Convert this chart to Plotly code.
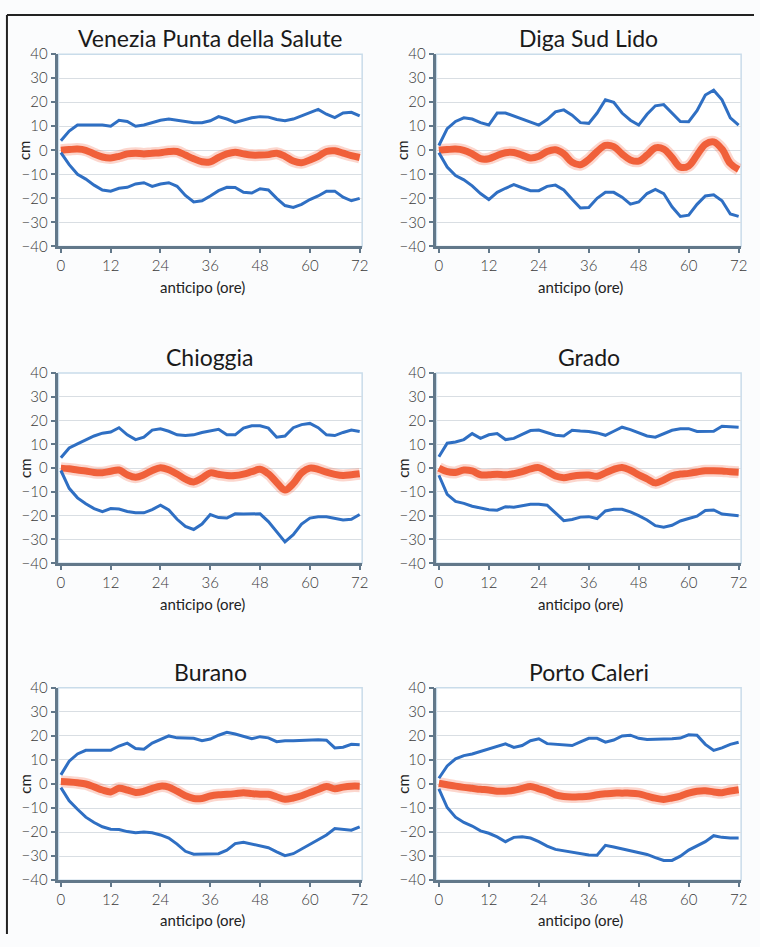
import plotly.graph_objects as go

# ---------------- data ----------------
hours = list(range(0, 73, 2))
x_ticks = [0, 12, 24, 36, 48, 60, 72]
y_ticks = [-40, -30, -20, -10, 0, 10, 20, 30, 40]
stations = ["Venezia Punta della Salute", "Diga Sud Lido", "Chioggia", "Grado", "Burano", "Porto Caleri"]

venezia_upper = [4, 8, 10.5, 10.5, 10.5, 10.5, 10, 12.5, 12, 10, 10.5, 11.6, 12.5, 13, 12.5, 12.3, 11.5, 11.5, 12.3,
                 14, 13, 11.6, 12.5, 13.5, 14, 13.8, 12.8, 12.3, 13, 14.3, 15.5, 17, 15, 13.6, 15.5, 15.8, 14.3]
venezia_mean = [0, 0.3, 0.5, 0, -1.5, -2.8, -3.2, -2.5, -1.5, -1.2, -1.5, -1.2, -1, -0.5, -0.5, -2, -3.5, -4.8, -4.8,
                -3, -1.5, -0.8, -1.5, -2, -2, -1.8, -1.2, -2.5, -4.5, -5.2, -4, -2.5, -0.5, -0.2, -1.2, -2.2, -3]
venezia_lower = [-1, -6, -10, -12, -14.5, -16.5, -17, -15.8, -15.4, -14, -13.5, -15, -14, -13.5, -15, -18.8, -21.5,
                 -21, -19, -16.8, -15.4, -15.5, -17.5, -17.8, -16, -16.5, -20, -23, -23.8, -22.5, -20.5, -19, -17,
                 -17, -19.5, -21, -20]

lido_upper = [2, 9, 12, 13.5, 13, 11.5, 10.5, 15.5, 15.5, 14.2, 13, 11.5, 10.5, 12.8, 16, 16.8, 14.6, 11.5, 11.2,
              15.5, 21, 20, 15.5, 12.5, 10.5, 15, 18.5, 19, 15.5, 12, 11.9, 16.5, 23, 25, 21, 13.5, 10.5]
lido_mean = [0, 0.3, 0.5, 0, -1.5, -3.5, -3.5, -2.2, -1, -0.9, -2, -3.2, -2.5, -0.5, 0.2, -1.5, -5, -6, -3.8,
             -0.5, 2, 1.5, -1.5, -4, -4.5, -2, 1, 0.5, -3, -7, -6.5, -2, 2.5, 3.5, 0.5, -5.5, -8]
lido_lower = [-1, -7, -10.5, -12.3, -14.8, -18, -20.5, -17.5, -15.8, -14.3, -15.6, -16.8, -16.8, -15, -14.5, -16.5,
              -20.4, -24, -23.8, -20, -17.5, -17.5, -19.5, -22.4, -21.5, -18, -16.3, -18, -23.5, -27.5, -27, -22.5,
              -19, -18.5, -21, -26.5, -27.5]

chioggia_upper = [4.4, 8.5, 10.2, 12, 13.5, 14.7, 15.2, 17, 14, 12, 13, 16, 16.5, 15.5, 14, 13.7, 14, 15, 15.5,
                  16.3, 14, 14, 16.8, 17.8, 17.8, 16.8, 13, 13.5, 17, 18.3, 18.8, 17, 14, 13.7, 15, 16, 15.4]
chioggia_mean = [0, -0.3, -0.8, -1.2, -1.8, -1.9, -1.3, -0.8, -2.8, -3.8, -2.8, -1, 0.2, -0.7, -2.5, -4.6, -5.8,
                 -4.2, -2, -2.6, -3.1, -3.1, -2.5, -1.5, -0.5, -2.4, -6, -9.2, -6.5, -2, 0, -0.5, -1.7, -2.6, -3.1,
                 -2.8, -2.4]
chioggia_lower = [-1, -8.5, -12.5, -15, -17, -18.3, -17, -17.2, -18.2, -18.8, -18.8, -17.4, -15.6, -17.6, -21.5,
                  -24.5, -25.8, -23.5, -19.5, -20.8, -21, -19.2, -19.3, -19.3, -19.2, -22.5, -27, -31, -28, -23.5,
                  -21, -20.4, -20.4, -21.2, -21.8, -21.5, -19.5]

grado_upper = [4.8, 10.5, 11, 12, 14.5, 12.5, 14, 14.5, 12, 12.5, 14.2, 15.8, 16, 15, 13.8, 13.5, 15.9, 15.6, 15.4,
               14.8, 13.8, 15.5, 17.2, 16.2, 15, 13.5, 13, 14.3, 15.9, 16.5, 16.6, 15.4, 15.3, 15.5, 17.6, 17.5, 17.2]
grado_mean = [0, -1.5, -1.8, -0.8, -1.2, -2.8, -2.8, -2.6, -2.8, -2.3, -1.5, -0.3, 0.2, -1.4, -3.3, -4, -3.4, -3,
              -2.9, -3.4, -2, -0.5, 0.3, -0.9, -2.8, -4.5, -6.2, -5, -3.2, -2.5, -2.2, -1.6, -1.1, -1.1, -1.2, -1.5,
              -1.7]
grado_lower = [-3, -11, -14, -14.8, -16, -16.8, -17.5, -17.7, -16.2, -16.4, -15.8, -15.2, -15.2, -15.6, -18.8, -22.1,
               -21.6, -20.6, -20.4, -21.2, -18, -17.3, -17.3, -18.4, -20, -21.8, -24.2, -24.8, -24, -22.2, -21.2,
               -20.2, -17.8, -17.6, -19.3, -19.8, -20]

burano_upper = [3.8, 9.5, 12.5, 14, 14, 14, 14, 15.8, 17, 14.8, 14.5, 17, 18.5, 20, 19.2, 19, 19, 18, 18.7, 20.3,
                21.5, 20.8, 19.7, 18.8, 19.7, 19.2, 17.6, 18, 18, 18.2, 18.4, 18.4, 18.2, 15, 15.3, 16.5, 16.3]
burano_mean = [1, 0.8, 0.5, 0, -1.2, -2.5, -3.3, -1.8, -2.5, -3.5, -3, -1.8, -0.9, -1.3, -3, -4.9, -6, -6, -5, -4.5,
               -4.3, -4, -3.6, -4, -4.3, -4.3, -5.3, -6.3, -5.8, -4.9, -3.5, -2.3, -1, -2, -1.3, -0.9, -0.9]
burano_lower = [-1.5, -7, -10.5, -13.8, -16, -17.8, -18.8, -18.9, -19.8, -20.3, -20, -20.3, -21.2, -22.5, -25, -28,
                -29.2, -29.2, -29.1, -29, -27.5, -24.8, -24.2, -25, -25.6, -26.5, -28.2, -29.8, -29, -27, -25, -23,
                -21.2, -18.5, -19, -19.2, -17.8]

caleri_upper = [2.4, 7.5, 10.5, 11.8, 12.5, 13.5, 14.5, 15.8, 16.7, 15.2, 16, 18, 18.8, 16.8, 16.5, 16.2, 16, 17.5,
                19, 19, 17.4, 18.3, 20, 20.3, 19, 18.5, 18.5, 18.5, 18.8, 19.1, 20.5, 20.3, 16.5, 14, 15, 16.5, 17.4]
caleri_mean = [0.3, -0.3, -0.9, -1.4, -1.8, -2.2, -2.5, -3, -3, -2.6, -1.8, -1, -2, -3, -4.5, -5.2, -5.4, -5.3,
               -5.1, -4.5, -4.1, -3.8, -3.8, -3.8, -4.1, -5, -5.9, -6.4, -5.8, -5, -3.8, -3, -2.8, -3.3, -3.6, -2.9,
               -2.4]
caleri_lower = [-2, -9.8, -13.8, -16, -17.5, -19.5, -20.5, -22, -24, -22.2, -22, -22.5, -24, -25.8, -27.2, -27.8,
                -28.3, -28.8, -29.5, -29.6, -25.5, -26.2, -27, -27.8, -28.3, -29.3, -30.6, -31.8, -31.8, -30, -27.5,
                -25.8, -24, -21.5, -22.2, -22.5, -22.5]

uppers = [venezia_upper, lido_upper, chioggia_upper, grado_upper, burano_upper, caleri_upper]
means = [venezia_mean, lido_mean, chioggia_mean, grado_mean, burano_mean, caleri_mean]
lowers = [venezia_lower, lido_lower, chioggia_lower, grado_lower, burano_lower, caleri_lower]

# ---------------- layout geometry ----------------
W, H = 760, 947
col_px = [(57, 364), (439, 747)]
row_px = [(45, 241), (370, 564), (691, 887)]

BLUE = "#2f6fc3"
RED = "#f0603a"
FONT = "Lato"
AXCOL = "#62788a"

fig = go.Figure()
layout = dict(width=W, height=H, margin=dict(l=0, r=0, t=0, b=0),
              paper_bgcolor="#fbfcfd", plot_bgcolor="#ffffff", showlegend=False,
              font=dict(family=FONT, size=14, color="#333333"))
annotations = []
shapes = []

tickfont = dict(family=FONT, size=15, color="#3a3a3a", weight=300)

for i, name in enumerate(stations):
    r, c = divmod(i, 2)
    x0, x1 = col_px[c]
    y0, y1 = row_px[r]
    sfx = "" if i == 0 else str(i + 1)
    xa, ya = "x" + sfx, "y" + sfx
    layout["xaxis" + sfx] = dict(domain=[x0 / W, x1 / W], anchor=ya, range=[-0.6, 72.6],
                                 tickvals=x_ticks, ticks="outside", ticklen=4, tickwidth=2, tickcolor=AXCOL,
                                 showline=True, linecolor=AXCOL, linewidth=2.5, showgrid=False, zeroline=False,
                                 tickfont=tickfont)
    layout["yaxis" + sfx] = dict(domain=[1 - y1 / H, 1 - y0 / H], anchor=xa, range=[-40, 40],
                                 tickvals=y_ticks, ticks="outside", ticklen=5, tickwidth=2, tickcolor=AXCOL,
                                 showline=True, linecolor=AXCOL, linewidth=2.5, showgrid=True,
                                 gridcolor="#d9dee3", gridwidth=1, zeroline=False,
                                 tickfont=tickfont)
    # light frame of plot area
    shapes.append(dict(type="rect", xref=xa + " domain", yref=ya + " domain", x0=0, x1=1, y0=0, y1=1,
                       line=dict(color="#c9dcea", width=1.5), layer="below"))

    fig.add_trace(go.Scatter(x=hours, y=means[i], xaxis=xa, yaxis=ya, mode="lines",
                             line=dict(color="rgba(245,120,90,0.30)", width=12, shape="spline"), hoverinfo="skip"))
    fig.add_trace(go.Scatter(x=hours, y=means[i], xaxis=xa, yaxis=ya, mode="lines",
                             line=dict(color=RED, width=7, shape="spline"), name="media"))
    for band in (uppers[i], lowers[i]):
        fig.add_trace(go.Scatter(x=hours, y=band, xaxis=xa, yaxis=ya, mode="lines",
                                 line=dict(color=BLUE, width=3), name="banda"))

    # titles / axis labels
    cx = (x0 + x1) / 2
    annotations.append(dict(text=name, x=cx / W, y=1 - (y0 - 16) / H, xref="paper", yref="paper",
                            showarrow=False, xanchor="center", yanchor="middle",
                            font=dict(family=FONT, size=23, color="#1a1a1a", weight=400)))
    annotations.append(dict(text="anticipo (ore)", x=(cx - 8) / W, y=1 - (y1 + 41) / H, xref="paper",
                            yref="paper", showarrow=False, xanchor="center", yanchor="middle",
                            font=dict(family=FONT, size=15, color="#222222")))
    annotations.append(dict(text="cm", x=(x0 - 34) / W, y=1 - (y0 + (y1 - y0) / 2) / H, xref="paper",
                            yref="paper", showarrow=False, textangle=-90, xanchor="center", yanchor="middle",
                            font=dict(family=FONT, size=15, color="#222222")))

# outer frame (top and left)
shapes.append(dict(type="line", xref="paper", yref="paper", x0=5 / W, x1=1, y0=1 - 5 / H, y1=1 - 5 / H,
                   line=dict(color="#222222", width=2)))
shapes.append(dict(type="line", xref="paper", yref="paper", x0=5 / W, x1=5 / W, y0=1 - 5 / H, y1=1 - 942 / H,
                   line=dict(color="#222222", width=2)))

layout["annotations"] = annotations
layout["shapes"] = shapes
fig.update_layout(**layout)
fig.write_html("out.html")
